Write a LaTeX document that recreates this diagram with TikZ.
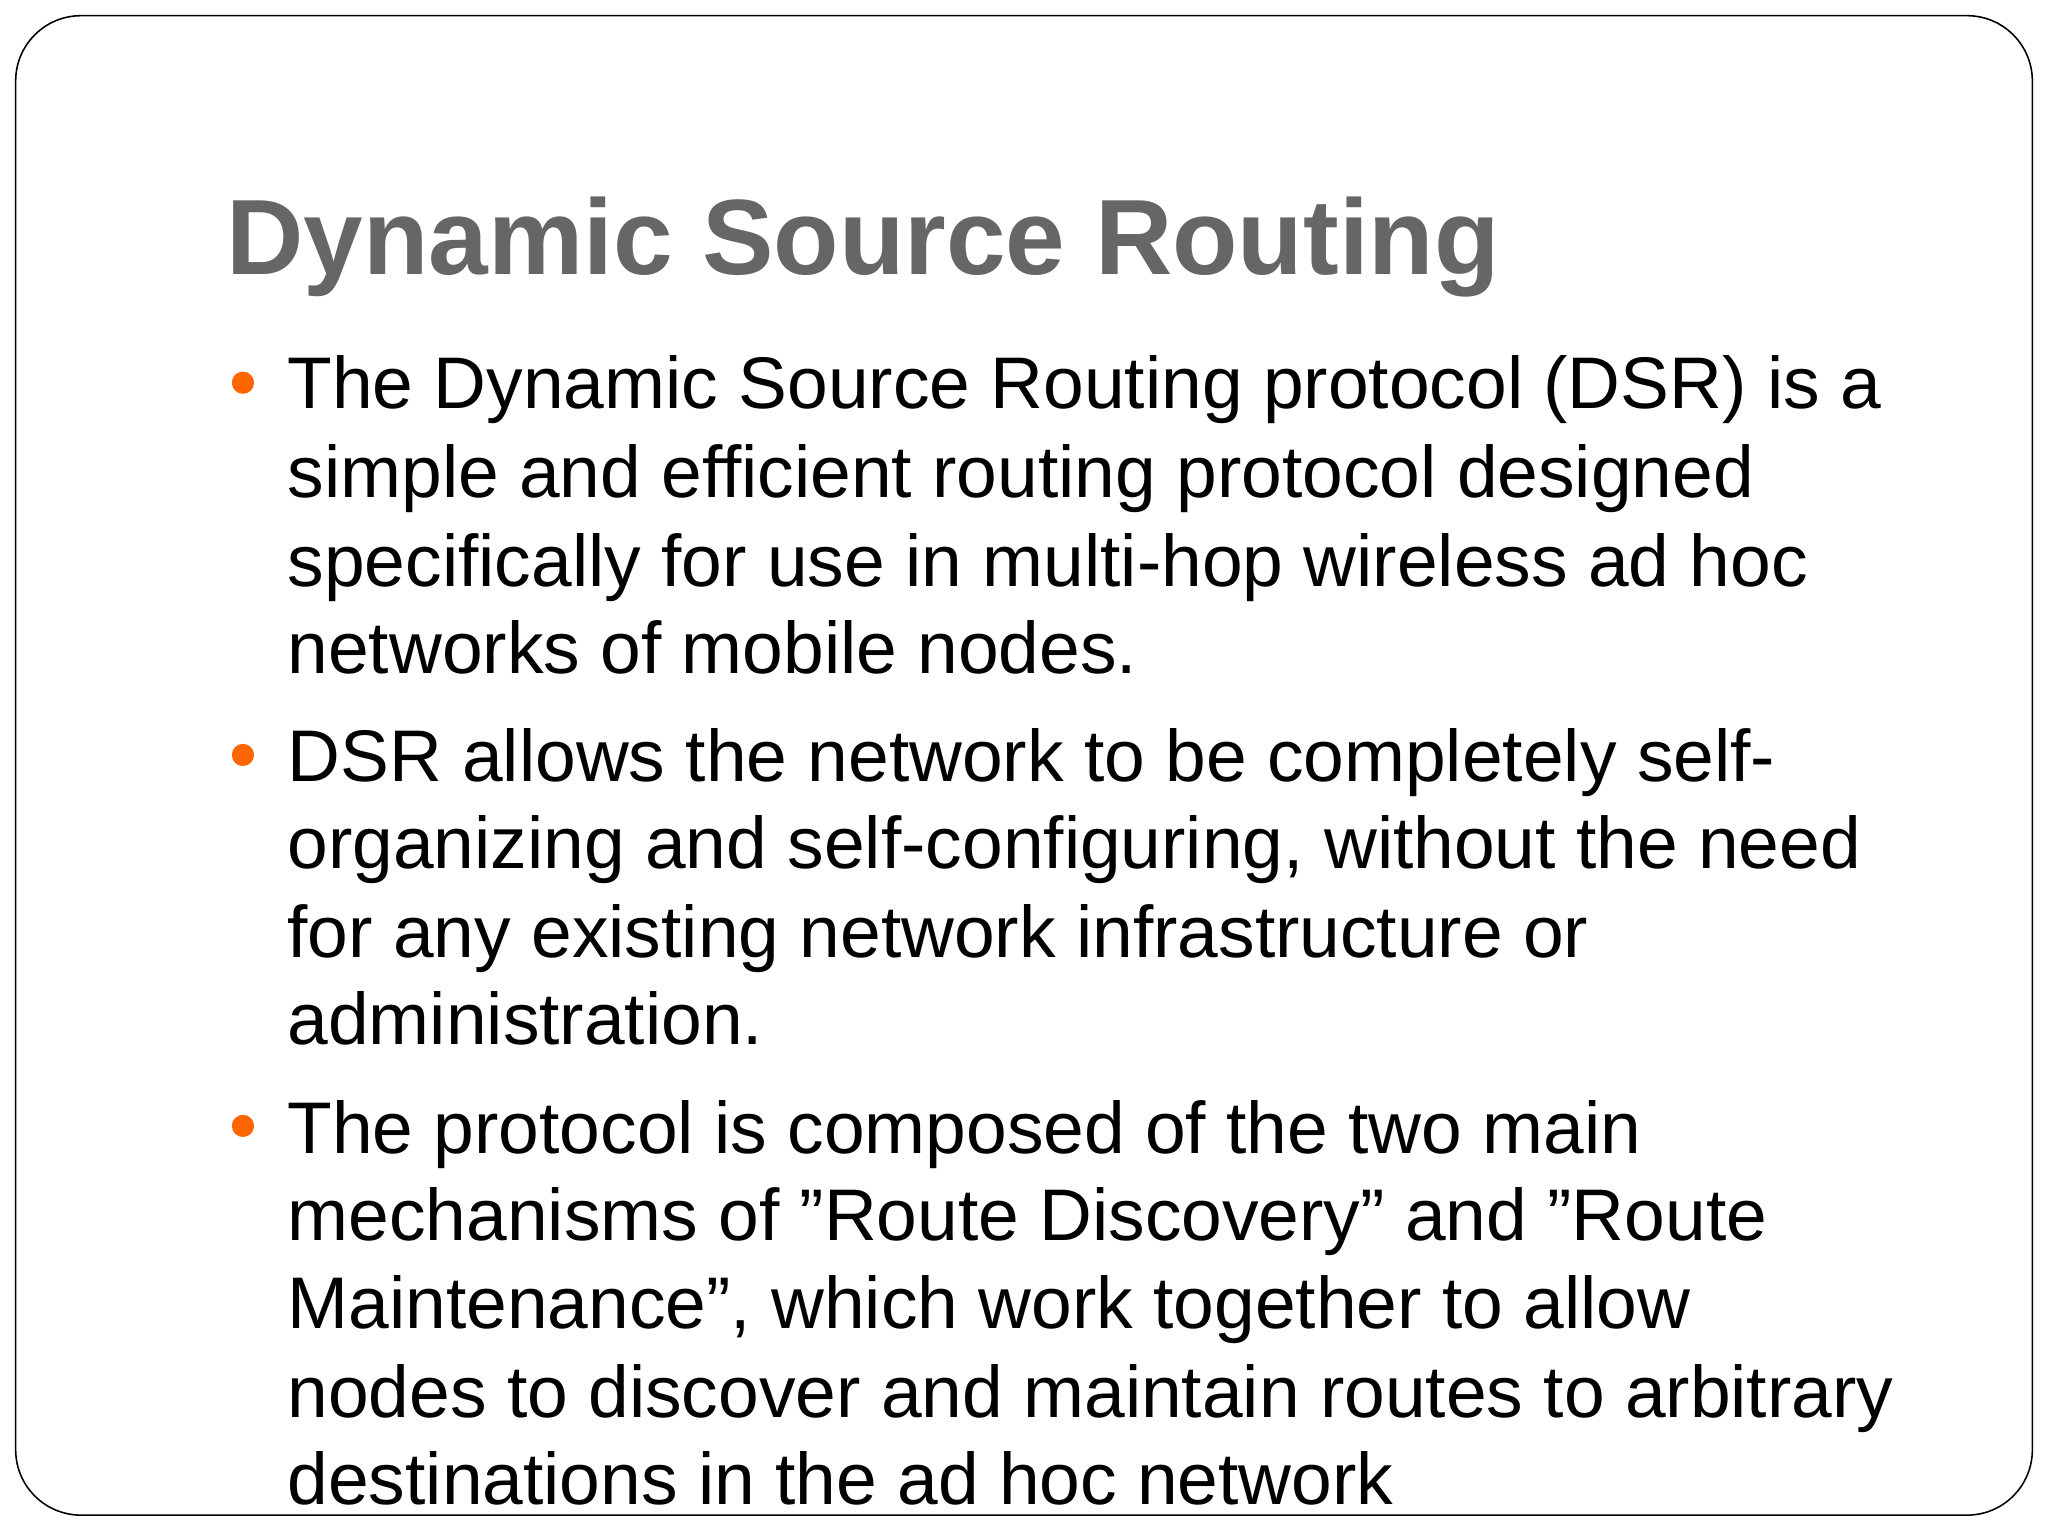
\documentclass[tikz,border=0pt]{standalone}
\usepackage{fontspec}
\setmainfont{Liberation Sans}
\begin{document}
\begin{tikzpicture}[x=1pt,y=-1pt,
  ln/.style={anchor=base west,inner sep=0pt,font=\fontsize{56}{60}\selectfont,text=black},
  bul/.style={circle,fill=orange!80!red,inner sep=0pt,minimum size=17pt}]
\useasboundingbox (0,0) rectangle (1568,1176);
\draw[line width=1.2pt,rounded corners=50pt] (12,12) rectangle (1556,1160);
\node[anchor=base west,inner sep=0pt,font=\fontsize{82}{86}\selectfont\bfseries,text=black!60] (title) at (173,210) {Dynamic Source Routing};
\foreach \y in {293,578,862} \node[bul] at (186,\y) {};
\node[ln] (a1) at (220,313) {The Dynamic Source Routing protocol (DSR) is a};
\node[ln] (a2) at (220,381) {simple and efficient routing protocol designed};
\node[ln] (a3) at (220,449) {specifically for use in multi-hop wireless ad hoc};
\node[ln] (a4) at (220,516) {networks of mobile nodes.};
\node[ln] (b1) at (220,598) {DSR allows the network to be completely self-};
\node[ln] (b2) at (220,665) {organizing and self-configuring, without the need};
\node[ln] (b3) at (220,733) {for any existing network infrastructure or};
\node[ln] (b4) at (220,800) {administration.};
\node[ln] (c1) at (220,883) {The protocol is composed of the two main};
\node[ln] (c2) at (220,950) {mechanisms of "Route Discovery" and "Route};
\node[ln] (c3) at (220,1017) {Maintenance", which work together to allow};
\node[ln] (c4) at (220,1085) {nodes to discover and maintain routes to arbitrary};
\node[ln] (c5) at (220,1152) {destinations in the ad hoc network};
\end{tikzpicture}
\end{document}
